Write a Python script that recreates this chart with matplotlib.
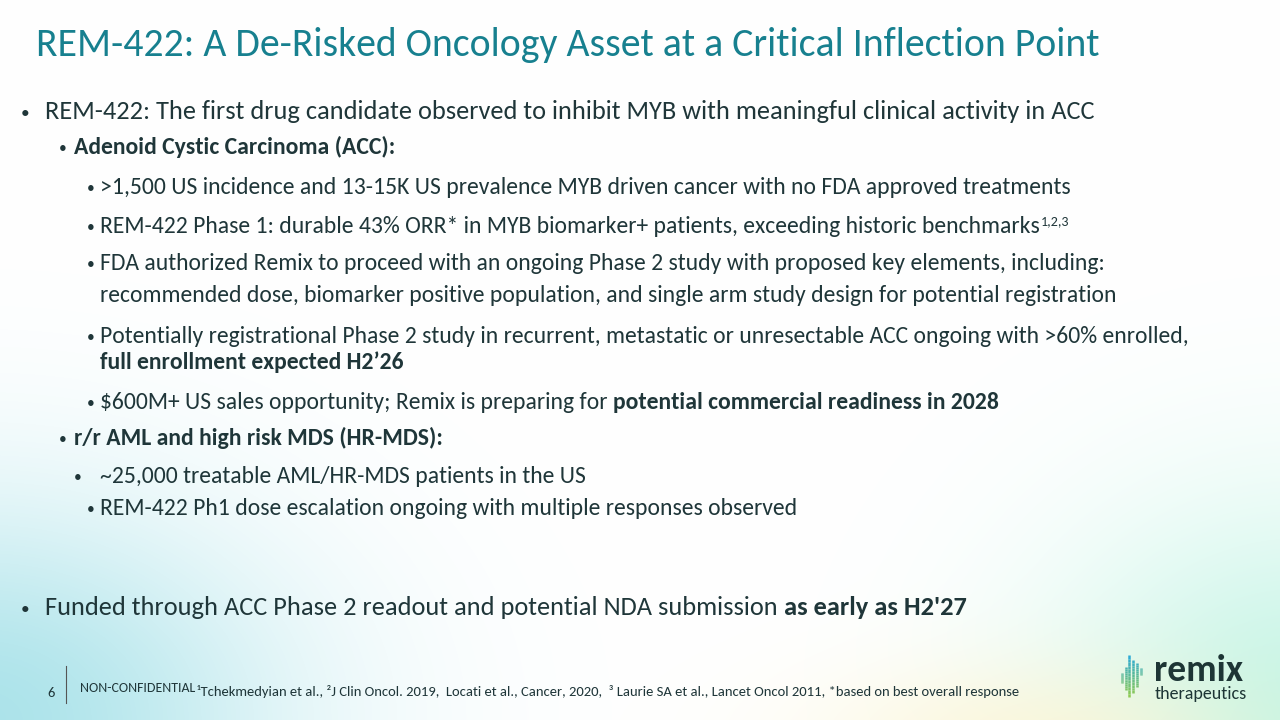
import matplotlib
matplotlib.use("Agg")
import matplotlib.pyplot as plt
from matplotlib import font_manager
import numpy as np

# slide text, one entry per line: (level, baseline y, parts)
title = "REM-422: A De-Risked Oncology Asset at a Critical Inflection Point"

lines = [
    (1, 119, [("REM-422: The first drug candidate observed to inhibit MYB with meaningful clinical activity in ACC", "normal")]),
    (2, 154, [("Adenoid Cystic Carcinoma (ACC):", "bold")]),
    (3, 194, [(">1,500 US incidence and 13-15K US prevalence MYB driven cancer with no FDA approved treatments", "normal")]),
    (3, 233, [("REM-422 Phase 1: durable 43% ORR* in MYB biomarker+ patients, exceeding historic benchmarks", "normal"),
              ("1,2,3", "sup")]),
    (3, 270, [("FDA authorized Remix to proceed with an ongoing Phase 2 study with proposed key elements, including:", "normal")]),
    (0, 302, [("recommended dose, biomarker positive population, and single arm study design for potential registration", "normal")]),
    (3, 343, [("Potentially registrational Phase 2 study in recurrent, metastatic or unresectable ACC ongoing with >60% enrolled,", "normal")]),
    (0, 369, [("full enrollment expected H2\u201926", "bold")]),
    (3, 409, [("$600M+ US sales opportunity; Remix is preparing for ", "normal"),
              ("potential commercial readiness in 2028", "bold")]),
    (2, 445, [("r/r AML and high risk MDS (HR-MDS):", "bold")]),
    (4, 483, [("~25,000 treatable AML/HR-MDS patients in the US", "normal")]),
    (3, 515, [("REM-422 Ph1 dose escalation ongoing with multiple responses observed", "normal")]),
    (1, 615, [("Funded through ACC Phase 2 readout and potential NDA submission ", "normal"),
              ("as early as H2'27", "bold")]),
]

page_number = "6"
confidentiality = "NON-CONFIDENTIAL"
footnote = ("\u00b9Tchekmedyian et al., \u00b2J Clin Oncol. 2019,  Locati et al., Cancer, 2020,  "
            "\u00b3 Laurie SA et al., Lancet Oncol 2011, *based on best overall response")

# per level: bullet x, text x, font size
levels = {
    1: (21, 45, 19.0),
    2: (59, 74, 17.0),
    3: (87, 100, 17.0),
    4: (74, 100, 17.0),
    0: (None, 100, 17.0),
}

TEXT = "#1f3639"
TEAL = "#17808f"

names = {f.name for f in font_manager.fontManager.ttflist}
FONT = "Carlito" if "Carlito" in names else "Lato"
plt.rcParams["font.family"] = [FONT, "DejaVu Sans"]

fig = plt.figure(figsize=(12.8, 7.2), dpi=100)
ax = fig.add_axes([0, 0, 1, 1])
ax.set_xlim(0, 1280)
ax.set_ylim(720, 0)
ax.axis("off")

# soft background washes
yy, xx = np.mgrid[0:720, 0:1280]
img = np.ones((720, 1280, 3))
blobs = [
    ((-20, 720), (300, 215), (0.64, 0.88, 0.91), 0.9),
    ((1300, 740), (250, 230), (0.72, 0.95, 0.88), 0.85),
    ((1040, 740), (220, 80), (1.00, 0.96, 0.82), 0.7),
]
for (cx, cy), (rx, ry), col, strength in blobs:
    a = strength * np.exp(-(((xx - cx) / rx) ** 2 + ((yy - cy) / ry) ** 2))
    img = img * (1 - a[..., None]) + np.array(col) * a[..., None]
ax.imshow(img, extent=(0, 1280, 720, 0), zorder=0)

fig.canvas.draw()
renderer = fig.canvas.get_renderer()


def put_parts(x, y, parts, size):
    for s, kind in parts:
        if kind == "sup":
            t = ax.text(x + 1, y - 8, s, fontsize=size * 0.6, color=TEXT, va="baseline")
        else:
            t = ax.text(x, y, s, fontsize=size, fontweight=kind, color=TEXT, va="baseline")
        x += t.get_window_extent(renderer).width


ax.text(36, 56, title, fontsize=28.6, color=TEAL, va="baseline")

for lvl, y, parts in lines:
    bx, tx, size = levels[lvl]
    if bx is not None:
        ax.text(bx, y - 1, "\u2022", fontsize=size * 0.66, color=TEXT, va="baseline")
    put_parts(tx, y, parts, size)

# footer
ax.text(47, 697, page_number, fontsize=10.5, color=TEXT, va="baseline")
ax.plot([66, 66], [666, 703], color="#555555", lw=0.8)
ax.text(80, 692, confidentiality, fontsize=10, color=TEXT, va="baseline")
ax.text(197, 696, footnote, fontsize=10.5, color=TEXT, va="baseline")

# logo
bar_x = [1122, 1125.5, 1129, 1132.5, 1137, 1141]
bar_top = [673, 667, 655, 660, 663, 668]
bar_bot = [683, 690, 697, 693, 687, 675]
blue = np.array([0.16, 0.66, 0.86])
green = np.array([0.58, 0.80, 0.30])
for bx, t0, t1 in zip(bar_x, bar_top, bar_bot):
    n = 12
    edges = np.linspace(t0, t1, n + 1)
    for k in range(n):
        f = ((edges[k] + edges[k + 1]) / 2 - 655) / (697 - 655)
        c = blue * (1 - f) + green * f
        ax.plot([bx, bx], [edges[k], edges[k + 1]], color=c, lw=1.8, solid_capstyle="butt")
ax.text(1154, 681, "remix", fontsize=27, fontweight="bold", color="#1d3535", va="baseline")
ax.text(1155, 699, "therapeutics", fontsize=13, color="#1d3535", va="baseline")

fig.savefig("out.png", dpi=100)
